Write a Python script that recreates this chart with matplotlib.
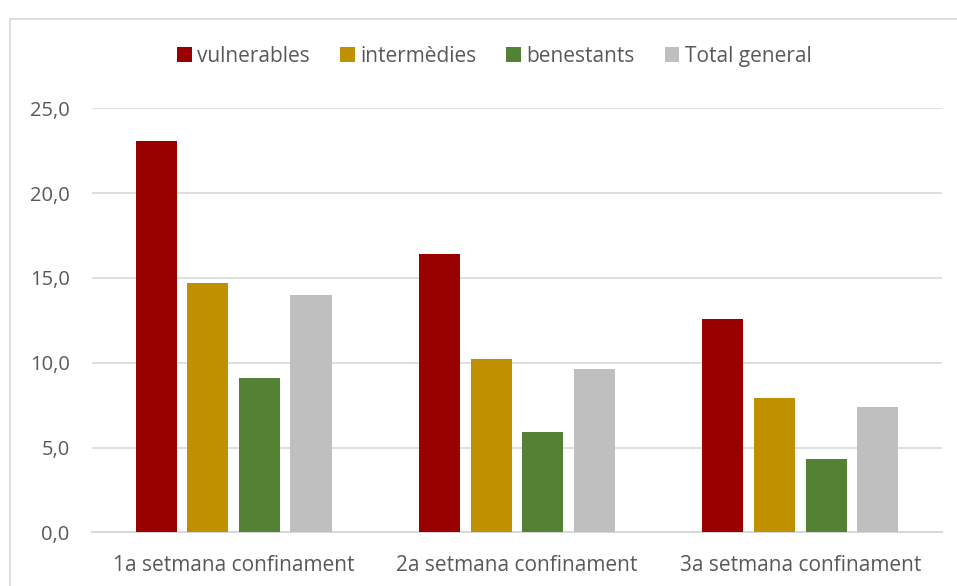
import numpy as np
import matplotlib.pyplot as plt
import matplotlib.lines as lines

categories = ['1a setmana confinament', '2a setmana confinament', '3a setmana confinament']
series_names = ['vulnerables', 'intermèdies', 'benestants', 'Total general']
vulnerables = [23.1, 16.4, 12.6]
intermedies = [14.7, 10.2, 7.9]
benestants = [9.1, 5.9, 4.3]
total_general = [14.0, 9.6, 7.4]
colors = ['#990000', '#BF9000', '#548235', '#BFBFBF']
y_ticks = [0, 5, 10, 15, 20, 25]

plt.rcParams['font.family'] = ['Open Sans', 'DejaVu Sans']
text_color = '#595959'

fig = plt.figure(figsize=(9.57, 5.86), dpi=100)
ax = fig.add_axes([0.0961, 0.0916, 0.8882, 0.7236])

x = np.arange(len(categories))
width = 0.145
step = 0.182
all_series = [vulnerables, intermedies, benestants, total_general]
for i, (name, vals) in enumerate(zip(series_names, all_series)):
    offset = (i - 1.5) * step
    ax.bar(x + offset, vals, width, color=colors[i], label=name, zorder=3)

ax.set_xlim(-0.5, 2.5)
ax.set_ylim(0, 25)
ax.set_yticks(y_ticks)
ax.set_yticklabels([f'{v:.1f}'.replace('.', ',') for v in y_ticks])
ax.set_xticks(x)
ax.set_xticklabels(categories)
ax.grid(axis='y', color='#D9D9D9', linewidth=1.2, zorder=0)
for s in ['top', 'right', 'left']:
    ax.spines[s].set_visible(False)
ax.spines['bottom'].set_color('#D9D9D9')
ax.spines['bottom'].set_linewidth(1.5)
ax.tick_params(axis='both', length=0, colors=text_color)
ax.tick_params(axis='x', pad=16, labelsize=15)
ax.tick_params(axis='y', pad=16, labelsize=14.5)

ax.legend(loc='center', bbox_to_anchor=(0.4735, 1.123), ncol=4, frameon=False,
          fontsize=15, handlelength=0.7, handleheight=0.7, handletextpad=0.25,
          columnspacing=1.45, labelcolor=text_color)

# chart border (top and left visible)
fig.add_artist(lines.Line2D([10 / 957, 1], [1 - 19 / 586, 1 - 19 / 586], color='#D9D9D9', linewidth=1.2))
fig.add_artist(lines.Line2D([10 / 957, 10 / 957], [0, 1 - 19 / 586], color='#D9D9D9', linewidth=1.2))

plt.savefig('out.png', dpi=100)
